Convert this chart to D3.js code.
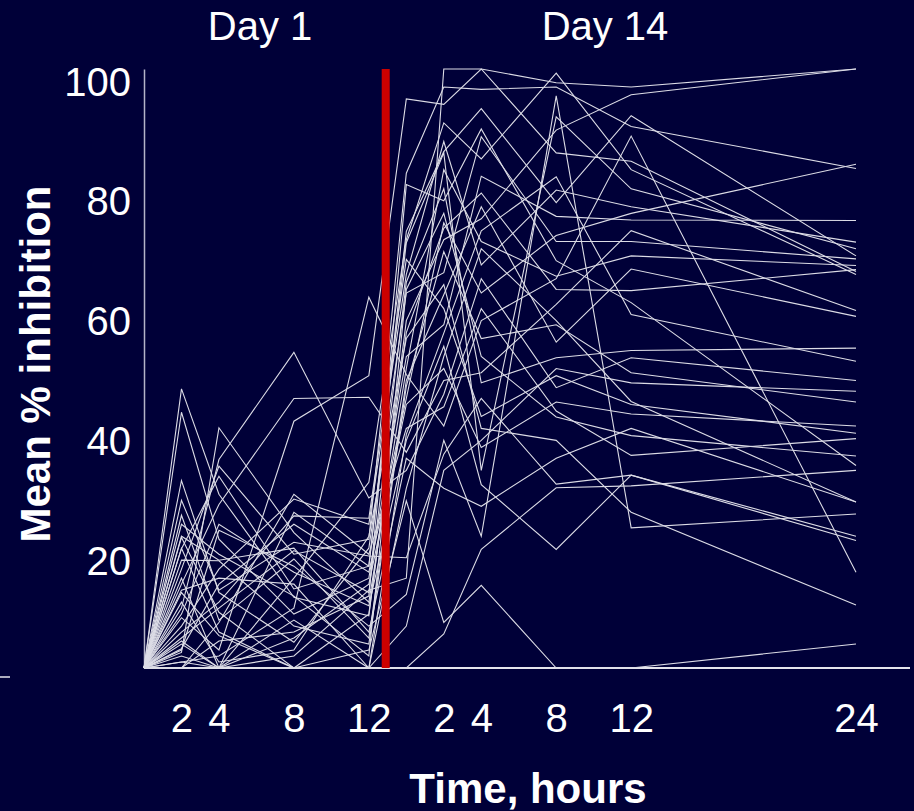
<!DOCTYPE html>
<html>
<head>
<meta charset="utf-8">
<script src="https://cdn.jsdelivr.net/npm/d3@7"></script>
<style>
  body { margin: 0; background: #000038; }
  text { font-family: 'Liberation Sans', Arial, sans-serif; fill: #fff; }
</style>
</head>
<body>
<div id="chart"></div>
<script>
// sampling times (hours after dose)
var day1Hours = [0, 2, 4, 8, 12]
var day14Hours = [0, 2, 4, 8, 12, 24]
var day14Start = 14      // day 14 curve starts 14 h along the axis
var doseMark = 12.9      // red separator between the two days

// tick labels
var yTicks = [20, 40, 60, 80, 100]
var day1Ticks = [2, 4, 8, 12]
var day14Ticks = [2, 4, 8, 12, 24]

// mean % inhibition, one row per subject
var day1Values = [
    [0, 4.5, 0, 2, 13],
    [0, 46.6, 29, 11.8, 8.7],
    [0, 16.5, 33.7, 19, 21.5],
    [0, 3.2, 14, 24, 16],
    [0, 42.7, 21.5, 9, 15],
    [0, 7, 16.5, 28.2, 24],
    [0, 31.3, 12.6, 4.3, 20],
    [0, 2.6, 40.1, 22.6, 11],
    [0, 12.6, 5.4, 0, 9],
    [0, 19.9, 32, 13.2, 17],
    [0, 8.4, 3, 41.2, 48.8],
    [0, 0, 0, 15, 31],
    [0, 25.5, 8, 18.2, 5],
    [0, 14, 27.3, 45, 45.2],
    [0, 5, 10, 19.6, 12.6],
    [0, 21.8, 9.3, 0, 0],
    [0, 10, 34.8, 52.7, 28.4],
    [0, 1, 2, 10, 61.9],
    [0, 18, 17.9, 7, 4],
    [0, 6, 11, 25.4, 25],
    [0, 15, 0, 5, 14],
    [0, 24, 19, 12, 2],
    [0, 0, 7.6, 29, 19],
    [0, 9, 24, 16, 10.4],
    [0, 28, 13, 21, 18.7],
    [0, 2, 0, 0, 0],
    [0, 11, 1, 3, 22],
    [0, 3, 23, 17, 7],
    [0, 20, 6, 0, 3],
    [0, 13, 15, 14, 0],
    [0, 0, 4.5, 6, 12],
    [0, 22, 18, 20, 6],
    [0, 1, 0, 8, 0],
    [0, 4, 0, 26, 17]
]
var day14Values = [
    [15, 100, 100, 97.7, 97, 100],
    [58, 71.5, 75, 89.8, 95.7, 100],
    [82.6, 97, 96.6, 97, 90.4, 83.4],
    [45, 74.3, 62.6, 72.2, 75.9, 84.1],
    [52, 57.3, 82.1, 75.4, 74.8, 74.7],
    [65.7, 87.9, 67.3, 79.8, 77, 71.1],
    [62.6, 66, 88.7, 71.2, 71.2, 68.3],
    [50, 83.2, 71.2, 65.4, 68.8, 67.2],
    [56, 73.4, 79.3, 63.2, 63, 66.5],
    [72.9, 86.2, 93.4, 77.7, 92.2, 68.8],
    [95, 94.1, 100, 86, 84.6, 66.2],
    [71.5, 91, 85, 99.3, 83.2, 65.7],
    [48, 62.3, 77, 54.4, 66.6, 58.7],
    [36, 48, 49.3, 60.7, 73, 59.7],
    [64.4, 80, 47.6, 51.8, 53, 53.4],
    [39, 55.9, 73, 82, 59, 51.2],
    [33, 45.7, 65, 46.8, 51.8, 48],
    [49, 40.4, 58, 65, 88.8, 16],
    [47, 69.5, 55, 57.3, 49.3, 44.4],
    [68.2, 60, 42, 48.8, 44, 39.2],
    [44, 50, 36.8, 44.4, 42.4, 40.4],
    [63.2, 75.9, 52, 41.9, 38.8, 35.4],
    [40, 43.6, 60, 42.9, 35.5, 38.3],
    [38, 53.7, 30.6, 19.8, 32.2, 22],
    [18.4, 35.7, 45, 30.7, 32.2, 21.3],
    [0, 5.7, 19.8, 30.1, 30.4, 33],
    [55, 64, 40, 38, 26, 10.5],
    [12.3, 38, 22, 95.5, 23.4, 25.7],
    [27.9, 7.6, 13.8, 0, 0, 4],
    [7, 33, 38, 50, 47.6, 46.2],
    [80.7, 78, 90, 68, 61, 33.8],
    [35, 30, 27, 35, 40, 27.7],
    [30, 52, 70, 58, 44.5, 27.7],
    [71, 86, 33, 92, 80, 70]
]

var width = 914,
    height = 811

var svg = d3.select('#chart')
    .append('svg')
    .attr('width', width)
    .attr('height', height)

// scales
var x = d3.scaleLinear()
    .domain([0, day14Start + 24])
    .range([144, 856])

var y = d3.scaleLinear()
    .domain([0, 100])
    .range([668, 69])

// y axis
var yaxis = d3.axisLeft(y)
    .tickValues(yTicks)
    .tickSize(0)
    .tickPadding(13)
svg.append('g')
    .attr('transform', 'translate(' + x(0) + ',0)')
    .call(yaxis)
    .call(g => g.select('.domain').attr('stroke', '#b4b4c8').attr('stroke-width', 1.5))
    .call(g => g.selectAll('text')
        .attr('dy', '0.65em')
        .style('font-size', '40px')
        .style('font-family', "'Liberation Sans', Arial, sans-serif")
        .attr('fill', '#fff'))

// x axis (both days on one time line)
var xTicks = day1Ticks.concat(day14Ticks.map(h => h + day14Start))
var xaxis = d3.axisBottom(x)
    .tickValues(xTicks)
    .tickFormat(d => d >= day14Start ? d - day14Start : d)
    .tickSize(0)
    .tickPadding(36)
svg.append('g')
    .attr('transform', 'translate(0,' + y(0) + ')')
    .call(xaxis)
    .call(g => g.select('.domain').remove())
    .call(g => g.selectAll('text')
        .style('font-size', '40px')
        .style('font-family', "'Liberation Sans', Arial, sans-serif")
        .attr('fill', '#fff'))

svg.append('line')
    .attr('x1', x(0))
    .attr('x2', width - 4)
    .attr('y1', y(0))
    .attr('y2', y(0))
    .attr('stroke', '#e4e4ec')
    .attr('stroke-width', 2)

// stray tick at the left edge
svg.append('line')
    .attr('x1', 0)
    .attr('x2', 10)
    .attr('y1', y(0) + 9)
    .attr('y2', y(0) + 9)
    .attr('stroke', '#e4e4ec')
    .attr('stroke-width', 1.5)

// subject lines: day 1 then day 14, joined
var subjects = day1Values.map((row, i) => {
    var pts = row.map((v, j) => [day1Hours[j], v])
    return pts.concat(day14Values[i].map((v, j) => [day14Hours[j] + day14Start, v]))
})

var line = d3.line()
    .x(d => x(d[0]))
    .y(d => y(d[1]))

svg.append('g')
    .selectAll('path')
    .data(subjects)
    .enter()
    .append('path')
    .attr('d', line)
    .attr('fill', 'none')
    .attr('stroke', '#dcdce6')
    .attr('stroke-width', 1.1)

// dosing separator
svg.append('line')
    .attr('x1', x(doseMark))
    .attr('x2', x(doseMark))
    .attr('y1', y(100))
    .attr('y2', y(0))
    .attr('stroke', '#cc0000')
    .attr('stroke-width', 8)

// day labels
svg.append('text')
    .attr('x', 260)
    .attr('y', 40)
    .attr('text-anchor', 'middle')
    .style('font-size', '40px')
    .text('Day 1')
svg.append('text')
    .attr('x', 605)
    .attr('y', 40)
    .attr('text-anchor', 'middle')
    .style('font-size', '40px')
    .text('Day 14')

// axis titles
svg.append('text')
    .attr('x', 528)
    .attr('y', 803)
    .attr('text-anchor', 'middle')
    .style('font-size', '42px')
    .style('font-weight', 'bold')
    .text('Time, hours')
svg.append('text')
    .attr('transform', 'translate(50,364) rotate(-90)')
    .attr('text-anchor', 'middle')
    .style('font-size', '42px')
    .style('font-weight', 'bold')
    .text('Mean % inhibition')
</script>
</body>
</html>
